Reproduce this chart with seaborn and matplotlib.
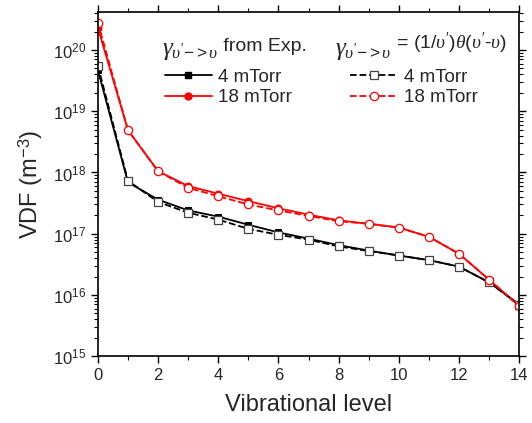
import matplotlib
matplotlib.use("Agg")
import matplotlib.pyplot as plt
import matplotlib.ticker as mticker
from matplotlib.lines import Line2D
import seaborn as sns

# Data
levels = list(range(15))
exp_4 = [4.7e19, 6.9e17, 3.6e17, 2.4e17, 1.9e17, 1.4e17, 1.05e17, 8.3e16,
         6.5e16, 5.3e16, 4.4e16, 3.7e16, 2.9e16, 1.6e16, 7.0e15]
th_4 = [5.5e19, 7.3e17, 3.3e17, 2.2e17, 1.7e17, 1.2e17, 9.6e16, 8.0e16,
        6.2e16, 5.2e16, 4.4e16, 3.7e16, 2.9e16, 1.6e16, 6.9e15]
exp_18 = [2.3e20, 4.9e18, 1.05e18, 6.0e17, 4.5e17, 3.4e17, 2.6e17, 2.05e17,
          1.65e17, 1.45e17, 1.26e17, 8.9e16, 4.7e16, 1.77e16, 6.6e15]
th_18 = [2.8e20, 4.9e18, 1.05e18, 5.6e17, 4.1e17, 3.0e17, 2.4e17, 1.95e17,
         1.6e17, 1.45e17, 1.26e17, 8.9e16, 4.7e16, 1.77e16, 6.6e15]
labels = ["4 mTorr", "18 mTorr"]

sns.set_style("ticks")
plt.rcParams['font.family'] = ['Liberation Sans', 'DejaVu Sans']
plt.rcParams['mathtext.fontset'] = 'custom'
plt.rcParams['mathtext.rm'] = 'Liberation Sans'
plt.rcParams['mathtext.it'] = 'Liberation Serif:italic'

fig = plt.figure(figsize=(5.32, 4.23), dpi=100)
ax = fig.add_axes([0.184, 0.158, 0.792, 0.814])

# experimental (solid, filled)
sns.lineplot(x=levels, y=exp_4, ax=ax, color='black', lw=1.3, marker='s',
             markersize=4, markeredgecolor='black', markerfacecolor='black')
sns.lineplot(x=levels, y=exp_18, ax=ax, color='red', lw=1.3, marker='o',
             markersize=5, markeredgecolor='red', markerfacecolor='red')
# theory (dashed, open)
sns.lineplot(x=levels, y=th_4, ax=ax, color='black', lw=1.3, ls='--', marker='s',
             markersize=5.5, markeredgecolor='#444444', markerfacecolor='white',
             markeredgewidth=0.9)
sns.lineplot(x=levels, y=th_18, ax=ax, color='red', lw=1.3, ls='--', marker='o',
             markersize=6, markeredgecolor='red', markerfacecolor='white',
             markeredgewidth=0.9)

ax.set_yscale('log')
ax.set_ylim(1e15, 4.2e20)
ax.set_xlim(0, 14)
ax.xaxis.set_major_locator(mticker.MultipleLocator(2))
ax.xaxis.set_minor_locator(mticker.MultipleLocator(1))
ax.yaxis.set_major_locator(mticker.LogLocator(base=10, numticks=10))
ax.yaxis.set_minor_locator(mticker.LogLocator(base=10, subs=range(2, 10), numticks=20))
ax.yaxis.set_minor_formatter(mticker.NullFormatter())

ax.tick_params(which='both', direction='out', labelsize=12, color='black',
               top=True, right=True)
ax.tick_params(which='major', length=5, width=1)
ax.tick_params(which='minor', length=3, width=0.8)
for sp in ax.spines.values():
    sp.set_visible(True)
    sp.set_color('black')
    sp.set_linewidth(1.2)

ax.set_xlabel("Vibrational level", fontsize=17, labelpad=8)
ax.set_ylabel("VDF (m$^{-3}$)", fontsize=17, labelpad=6)

# legend headers
sub = r"$\gamma_{\upsilon'{-}{>}\upsilon}$"
g1 = ax.text(0.152, 0.925, sub, transform=ax.transAxes,
             fontsize=18, va='top', ha='left')
ax.annotate(" from Exp.", xy=(1, 0.27), xycoords=g1, fontsize=14, va='bottom')
g2 = ax.text(0.562, 0.925, sub, transform=ax.transAxes,
             fontsize=18, va='top', ha='left')
ax.annotate(r" = (1/$\upsilon'$)$\theta$($\upsilon'$-$\upsilon$)", xy=(1, 0.22),
            xycoords=g2, fontsize=14, va='bottom')

handles = [
    Line2D([], [], color='black', lw=1.3, marker='s', markersize=4),
    Line2D([], [], color='red', lw=1.3, marker='o', markersize=5),
    Line2D([], [], color='black', lw=1.3, ls='--', marker='s', markersize=5.5,
           markerfacecolor='white', markeredgecolor='#444444', markeredgewidth=0.9),
    Line2D([], [], color='red', lw=1.3, ls='--', marker='o', markersize=6,
           markerfacecolor='white', markeredgewidth=0.9),
]
ax.legend(handles, labels + labels, ncol=2, frameon=False, fontsize=13.5,
          loc='upper left', bbox_to_anchor=(0.159, 0.835), borderaxespad=0,
          borderpad=0, handlelength=2.5, handletextpad=0.35, columnspacing=3.1,
          labelspacing=0.17)

fig.savefig("out.png", dpi=100)
